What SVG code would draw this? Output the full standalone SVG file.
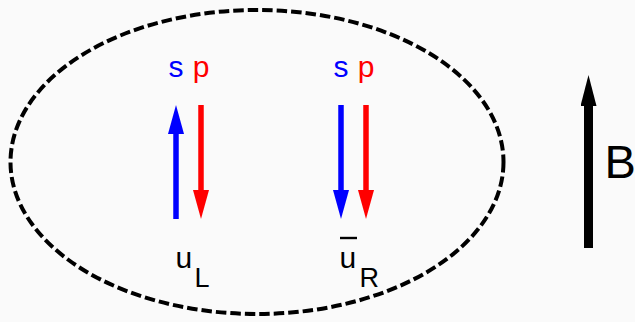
<svg xmlns="http://www.w3.org/2000/svg" width="635" height="322" viewBox="0 0 635 322">
<style>
text{font-family:"Liberation Sans",Arial,sans-serif}
.lbl{font-size:30px;text-anchor:middle}
.q{font-size:30px;fill:#000}
.sub{font-size:27px}
.ar{fill:none;stroke-width:5.5}
</style>
<defs>
<marker id="hb" markerUnits="userSpaceOnUse" markerWidth="29" markerHeight="16" refX="0" refY="8" orient="auto" viewBox="0 0 29 16"><path d="M0,0 L29,8 L0,16 z" fill="#0000ff"/></marker>
<marker id="hr" markerUnits="userSpaceOnUse" markerWidth="29" markerHeight="16" refX="0" refY="8" orient="auto" viewBox="0 0 29 16"><path d="M0,0 L29,8 L0,16 z" fill="#ff0000"/></marker>
<marker id="hk" markerUnits="userSpaceOnUse" markerWidth="31" markerHeight="16" refX="0" refY="8" orient="auto" viewBox="0 0 31 16"><path d="M0,0 L31,8 L0,16 z" fill="#000"/></marker>
</defs>
<rect width="635" height="322" fill="#fafafa"/>
<g id="region">
<ellipse cx="257" cy="162" rx="246.5" ry="152" fill="none" stroke="#000" stroke-width="4" stroke-dasharray="10.5 4"/>
</g>
<g id="connectors">
<line class="ar" x1="176" y1="219" x2="176" y2="134" stroke="#0000ff" marker-end="url(#hb)"/>
<line class="ar" x1="201" y1="105" x2="201" y2="190" stroke="#ff0000" marker-end="url(#hr)"/>
<line class="ar" x1="341" y1="105" x2="341" y2="190" stroke="#0000ff" marker-end="url(#hb)"/>
<line class="ar" x1="366" y1="105" x2="366" y2="190" stroke="#ff0000" marker-end="url(#hr)"/>
<line x1="588.5" y1="248" x2="588.5" y2="106" stroke="#000" stroke-width="9" marker-end="url(#hk)"/>
</g>
<g id="uL">
<text class="lbl" x="176" y="77" fill="#0000ff">s</text>
<text class="lbl" x="201" y="77" fill="#ff0000">p</text>
<text class="q" x="175.5" y="268">u<tspan class="sub" x="194.5" y="286.5">L</tspan></text>
</g>
<g id="uR">
<text class="lbl" x="341" y="77" fill="#0000ff">s</text>
<text class="lbl" x="366" y="77" fill="#ff0000">p</text>
<line x1="340" y1="238" x2="357" y2="238" stroke="#000" stroke-width="2.4"/>
<text class="q" x="339.5" y="268">u<tspan class="sub" x="359.5" y="286.5">R</tspan></text>
</g>
<g id="B">
<text x="604.5" y="178" font-size="47" fill="#000">B</text>
</g>
</svg>
